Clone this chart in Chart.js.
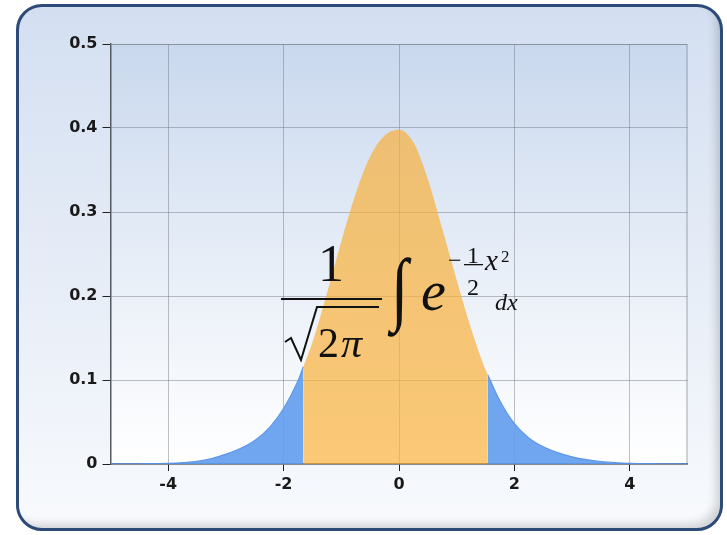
<!DOCTYPE html>
<html>
<head>
<meta charset="utf-8">
<script src="https://cdn.jsdelivr.net/npm/chart.js@4/dist/chart.umd.min.js"></script>
<style>
  html, body { margin: 0; padding: 0; background: #ffffff; }
  #wrap { position: relative; width: 727px; height: 535px; overflow: hidden; }
  #frame {
    position: absolute; left: 16px; top: 4px; width: 707px; height: 527px;
    box-sizing: border-box; border: 3px solid #2d4a78; border-radius: 26px;
    background: linear-gradient(to bottom, #d3dff1 0%, #e4ebf6 45%, #f8fafd 100%);
    box-shadow: inset -7px -7px 9px -3px rgba(0,0,0,0.16);
  }
  #c { position: absolute; left: 0; top: 0; }
</style>
</head>
<body>
<div id="wrap">
  <div id="frame"></div>
  <canvas id="c" width="727" height="535"></canvas>
</div>
<script>
// Density curve split into the two tails and the central band
const leftTailX  = [-5, -4.5, -4, -3.75, -3.5, -3.25, -3, -2.75, -2.5, -2.25, -2, -1.75, -1.66];
const leftTailY  = [0.0001, 0.0003, 0.0008, 0.0016, 0.0031, 0.0065, 0.0118, 0.0185, 0.028, 0.043, 0.066, 0.099, 0.1156];
const bandX      = [-1.66, -1.5, -1.25, -1, -0.75, -0.5, -0.25, 0, 0.25, 0.5, 0.75, 1, 1.25, 1.5, 1.54];
const bandY      = [0.1156, 0.145, 0.203, 0.265, 0.322, 0.366, 0.391, 0.398, 0.383, 0.339, 0.280, 0.219, 0.161, 0.112, 0.106];
const rightTailX = [1.54, 1.75, 2, 2.25, 2.5, 2.75, 3, 3.25, 3.5, 3.75, 4, 4.5, 5];
const rightTailY = [0.106, 0.075, 0.048, 0.031, 0.0205, 0.0135, 0.0085, 0.0052, 0.003, 0.0016, 0.0008, 0.0003, 0.0001];

const xTicks = [-4, -2, 0, 2, 4];
const xTickLabels = ['-4', '-2', '0', '2', '4'];
const yTicks = [0, 0.1, 0.2, 0.3, 0.4, 0.5];
const yTickLabels = ['0', '0.1', '0.2', '0.3', '0.4', '0.5'];

const pts = (xs, ys) => xs.map((x, i) => ({ x: x, y: ys[i] }));

const BLUE_FILL = 'rgba(96,156,238,0.9)';
const BLUE_LINE = 'rgba(90,148,232,0.95)';
const ORANGE_FILL = 'rgba(248,176,60,0.7)';

// plot-area background and the light frame on top/right
const plotBackdrop = {
  id: 'plotBackdrop',
  beforeDraw(chart) {
    const { ctx, chartArea: a } = chart;
    const g = ctx.createLinearGradient(0, a.top, 0, a.bottom);
    g.addColorStop(0, '#c9d8ee');
    g.addColorStop(0.55, '#e9eff8');
    g.addColorStop(1, '#ffffff');
    ctx.save();
    ctx.fillStyle = g;
    ctx.fillRect(a.left, a.top, a.right - a.left, a.bottom - a.top);
    ctx.restore();
  },
  beforeDatasetsDraw(chart) {
    const { ctx, chartArea: a } = chart;
    ctx.save();
    ctx.strokeStyle = 'rgba(130,140,150,0.75)';
    ctx.lineWidth = 1;
    ctx.beginPath();
    ctx.moveTo(a.left, a.top + 0.5);
    ctx.lineTo(a.right - 0.5, a.top + 0.5);
    ctx.lineTo(a.right - 0.5, a.bottom);
    ctx.stroke();
    ctx.restore();
  }
};

// the Gaussian integral written over the plot
const formula = {
  id: 'formula',
  afterDatasetsDraw(chart) {
    const ctx = chart.ctx;
    const serif = '"Liberation Serif", "DejaVu Serif", serif';
    ctx.save();
    ctx.fillStyle = '#111111';
    ctx.strokeStyle = '#111111';
    ctx.textBaseline = 'alphabetic';

    // 1 / sqrt(2 pi)
    ctx.textAlign = 'center';
    ctx.font = '52px ' + serif;
    ctx.fillText('1', 331, 281);
    ctx.fillRect(281, 298, 101, 2);

    ctx.lineWidth = 2;
    ctx.lineJoin = 'miter';
    ctx.beginPath();
    ctx.moveTo(285, 342);
    ctx.lineTo(291, 338);
    ctx.lineTo(301, 360);
    ctx.lineTo(317, 307);
    ctx.lineTo(379, 307);
    ctx.stroke();

    ctx.textAlign = 'left';
    ctx.font = '42px ' + serif;
    ctx.fillText('2', 318, 357);
    ctx.font = 'italic 42px ' + serif;
    ctx.fillText('\u03C0', 341, 357);

    // integral sign
    ctx.save();
    ctx.font = '60px ' + serif;
    ctx.translate(391, 315);
    ctx.scale(1.05, 1.35);
    ctx.fillText('\u222B', 0, 0);
    ctx.restore();

    // e with exponent
    ctx.font = 'italic 56px ' + serif;
    ctx.fillText('e', 421, 310);

    ctx.font = '24px ' + serif;
    ctx.fillText('\u2212', 448, 268);
    ctx.textAlign = 'center';
    ctx.fillText('1', 473, 263);
    ctx.fillRect(464, 264, 19, 1.3);
    ctx.fillText('2', 473, 295);
    ctx.textAlign = 'left';
    ctx.font = 'italic 29px ' + serif;
    ctx.fillText('x', 485, 270);
    ctx.font = '17px ' + serif;
    ctx.fillText('2', 501, 262);

    ctx.font = 'italic 24px ' + serif;
    ctx.fillText('dx', 495, 310);
    ctx.restore();
  }
};

const tickFont = { family: '"DejaVu Sans", sans-serif', size: 16, weight: 'bold' };

new Chart(document.getElementById('c'), {
  type: 'line',
  data: {
    datasets: [
      { data: pts(leftTailX, leftTailY), fill: 'origin', backgroundColor: BLUE_FILL,
        borderColor: BLUE_LINE, borderWidth: 1.2, pointRadius: 0, cubicInterpolationMode: 'monotone' },
      { data: pts(bandX, bandY), fill: 'origin', backgroundColor: ORANGE_FILL,
        borderColor: 'rgba(0,0,0,0)', borderWidth: 0, pointRadius: 0, cubicInterpolationMode: 'monotone' },
      { data: pts(rightTailX, rightTailY), fill: 'origin', backgroundColor: BLUE_FILL,
        borderColor: BLUE_LINE, borderWidth: 1.2, pointRadius: 0, cubicInterpolationMode: 'monotone' }
    ]
  },
  options: {
    responsive: false,
    devicePixelRatio: 1,
    animation: false,
    events: [],
    layout: { padding: { left: 0, top: 44, right: 39.5, bottom: 0 } },
    plugins: { legend: { display: false }, tooltip: { enabled: false } },
    scales: {
      x: {
        type: 'linear', min: -5, max: 5,
        afterBuildTicks: s => { s.ticks = xTicks.map(v => ({ value: v })); },
        afterFit: s => { s.height = 71; },
        ticks: { color: '#1a1a1a', font: tickFont, padding: 4,
                 callback: (v) => xTickLabels[xTicks.indexOf(v)] },
        grid: { color: 'rgba(110,115,125,0.45)', lineWidth: 1, tickLength: 7,
                tickColor: '#222222', drawTicks: true },
        border: { display: true, color: '#555a60', width: 1.5 }
      },
      y: {
        type: 'linear', min: 0, max: 0.5,
        afterBuildTicks: s => { s.ticks = yTicks.map(v => ({ value: v })); },
        afterFit: s => { s.width = 110.5; },
        ticks: { color: '#1a1a1a', font: tickFont, padding: 5,
                 callback: (v) => yTickLabels[yTicks.indexOf(v)] },
        grid: { color: 'rgba(110,115,125,0.45)', lineWidth: 1, tickLength: 8,
                tickColor: '#222222', drawTicks: true },
        border: { display: true, color: '#555a60', width: 1.5 }
      }
    }
  },
  plugins: [plotBackdrop, formula]
});
</script>
</body>
</html>
